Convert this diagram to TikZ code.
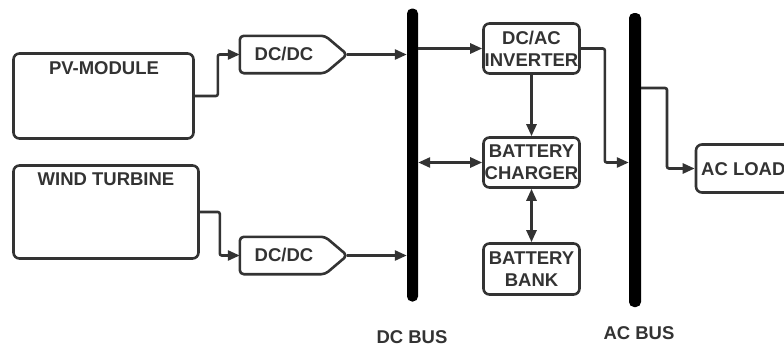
\documentclass[tikz,border=0pt]{standalone}
\usepackage{fontspec}
\setmainfont{Liberation Sans}
\usetikzlibrary{arrows.meta}
\definecolor{ln}{HTML}{333333}
\begin{document}
\begin{tikzpicture}[x=1pt,y=-1pt,
  box/.style={draw=ln, line width=2.6pt, rounded corners=6pt, inner sep=0pt},
  lbl/.style={font=\fontsize{18.5}{23}\selectfont\bfseries, text=ln, align=center, inner sep=0pt},
  tip/.style={-{Triangle[length=12pt,width=10pt]}},
  dtip/.style={{Triangle[length=12pt,width=10pt]}-{Triangle[length=12pt,width=10pt]}},
  conn/.style={draw=ln, line width=2.6pt, rounded corners=2pt},
  bus/.style={fill=black, rounded corners=5pt, minimum width=11pt, inner sep=0pt},
  conv/.style={draw=ln, line width=2.6pt, rounded corners=4pt},
]
\clip (0,0) rectangle (784,351);
% sources
\node[box, minimum width=180pt, minimum height=85pt] (pv) at (103.5,96) {};
\node[lbl, anchor=center] (pvt) at (104,68) {PV-MODULE};
\node[box, minimum width=185pt, minimum height=93pt] (wind) at (106,212) {};
\node[lbl, anchor=center] (windt) at (106,179) {WIND TURBINE};
% DC/DC converters
\node[minimum width=107pt, minimum height=37pt, inner sep=0pt] (dc1) at (293.5,54.5) {};
\draw[conv] (dc1.south west) -- (dc1.north west) -- ([xshift=-22pt]dc1.north east) -- (dc1.east) -- ([xshift=-22pt]dc1.south east) -- cycle;
\node[lbl] (dc1t) at (284,54) {DC/DC};
\node[minimum width=107pt, minimum height=37pt, inner sep=0pt] (dc2) at (293.5,255.5) {};
\draw[conv] (dc2.south west) -- (dc2.north west) -- ([xshift=-22pt]dc2.north east) -- (dc2.east) -- ([xshift=-22pt]dc2.south east) -- cycle;
\node[lbl] (dc2t) at (284,255) {DC/DC};
% buses
\node[bus, minimum height=293pt] (dcbus) at (412.5,155) {};
\node[bus, minimum height=294pt, minimum width=12pt] (acbus) at (635,160) {};
\node[lbl] (dcbl) at (412,337) {DC BUS};
\node[lbl] (acbl) at (639,333) {AC BUS};
% middle boxes
\node[box, lbl, minimum width=96pt, minimum height=50pt] (inv) at (531.5,48.5) {DC/AC\\[-1pt]INVERTER};
\node[box, lbl, minimum width=96pt, minimum height=50pt] (chg) at (531.5,162.5) {BATTERY\\[-1pt]CHARGER};
\node[box, lbl, minimum width=96pt, minimum height=51pt] (bank) at (531.5,269) {BATTERY\\[-1pt]BANK};
% load
\node[box, minimum width=130pt, minimum height=48pt] (acload) at (761,168.5) {};
\node[lbl, anchor=west] (acloadt) at (701,169) {AC LOAD};
% connectors
\draw[conn, tip] (pv.east) -- ++(23,0) |- (dc1.west);
\draw[conn, tip] (wind.east) -- ++(20,0) |- (dc2.west);
\draw[conn, tip] (dc1.east) -- (dc1.east -| dcbus.west);
\draw[conn, tip] (dc2.east) -- (dc2.east -| dcbus.west);
\draw[conn, tip] (dcbus.east |- inv.west) -- (inv.west);
\draw[conn, tip] (inv.east) -- ++(24,0) |- (acbus.west |- chg.east);
\draw[conn, tip] (inv.south) -- (chg.north);
\draw[conn, dtip] (dcbus.east |- chg.west) -- (chg.west);
\draw[conn, dtip] (chg.south) -- (bank.north);
\coordinate (acout) at (641,88);
\draw[conn, tip] (acout) -- ++(26,0) |- (acload.west);
\end{tikzpicture}
\end{document}
